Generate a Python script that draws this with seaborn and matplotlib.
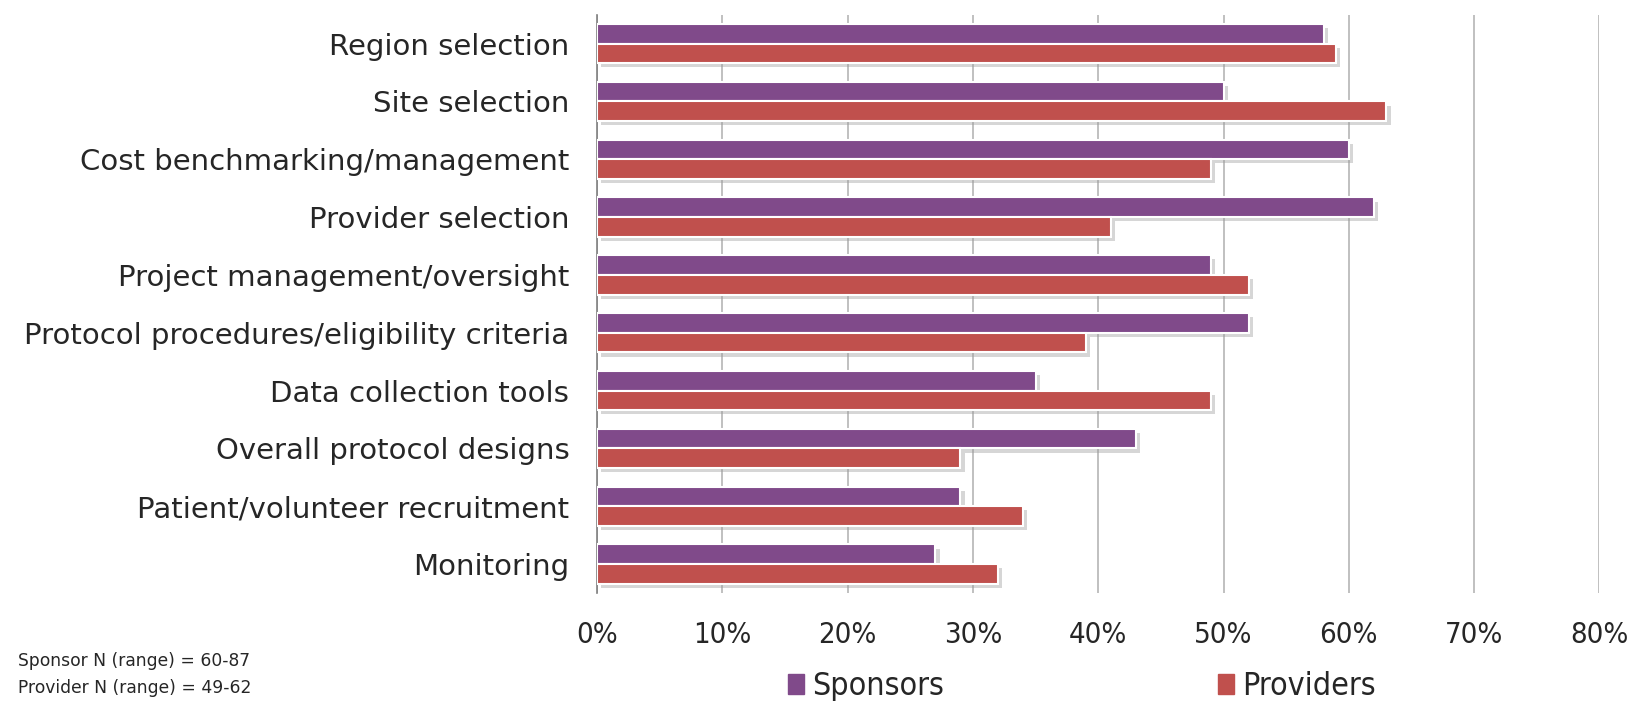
import matplotlib
matplotlib.use("Agg")
import matplotlib.pyplot as plt
import matplotlib.patheffects as pe
import numpy as np
import pandas as pd
import seaborn as sns

categories = [
    "Region selection",
    "Site selection",
    "Cost benchmarking/management",
    "Provider selection",
    "Project management/oversight",
    "Protocol procedures/eligibility criteria",
    "Data collection tools",
    "Overall protocol designs",
    "Patient/volunteer recruitment",
    "Monitoring",
]
sponsors = [58, 50, 60, 62, 49, 52, 35, 43, 29, 27]
providers = [59, 63, 49, 41, 52, 39, 49, 29, 34, 32]
series_names = ["Sponsors", "Providers"]
series_colors = ["#804A8A", "#C0504D"]
x_ticks = [0, 10, 20, 30, 40, 50, 60, 70, 80]
footnote = "Sponsor N (range) = 60-87\nProvider N (range) = 49-62"

df = pd.DataFrame({
    "category": categories * 2,
    "value": sponsors + providers,
    "series": [series_names[0]] * len(categories) + [series_names[1]] * len(categories),
})

sns.set_style("white")
plt.rcParams["font.family"] = ["DejaVu Sans"]

fig = plt.figure(figsize=(16.27, 7.01), dpi=100)
ax = fig.add_axes([0.367, 0.154, 0.616, 0.825])

sns.barplot(data=df, x="value", y="category", hue="series", order=categories,
            hue_order=series_names, palette=series_colors, orient="h",
            width=0.68, saturation=1, edgecolor="white", linewidth=1.5,
            legend=False, ax=ax, zorder=3)

# soft drop shadow like the original chart
for bar in ax.patches:
    bar.set_path_effects([pe.SimplePatchShadow(offset=(3, -3), shadow_rgbFace="#9a9a9a", alpha=0.4),
                          pe.Normal()])

ax.set_xlim(0, 80)
ax.set_ylim(len(categories) - 0.5, -0.5)
ax.set_xticks(x_ticks)
ax.set_xticklabels([f"{t}%" for t in x_ticks], fontsize=21, fontstretch="condensed")
ax.tick_params(axis="x", length=0, pad=20)
ax.set_yticks(np.arange(len(categories)))
ax.set_yticklabels(categories, fontsize=21)
ax.tick_params(axis="y", which="major", length=0, pad=20)
ax.set_yticks(np.arange(len(categories) + 1) - 0.5, minor=True)
ax.tick_params(axis="y", which="minor", length=6, width=1.2, color="#808080", direction="out")
ax.set_xlabel("")
ax.set_ylabel("")

ax.grid(axis="x", color="#b5b5b5", linewidth=1.2, zorder=0)
ax.set_axisbelow(True)
for side in ["top", "right", "bottom"]:
    ax.spines[side].set_visible(False)
ax.spines["left"].set_color("#808080")
ax.spines["left"].set_linewidth(1.2)

handles = [plt.Rectangle((0, 0), 1, 1, color=c) for c in series_colors]
fig.legend(handles, series_names, loc="center", bbox_to_anchor=(0.665, 0.02), ncol=2,
           frameon=False, prop={"size": 23, "stretch": "condensed"},
           handlelength=0.5, handleheight=0.6, handletextpad=0.25, columnspacing=8.6)

fig.text(0.011, 0.038, footnote, fontsize=12.3, va="center", ha="left", linespacing=1.65)

fig.savefig("out.png", dpi=100)
